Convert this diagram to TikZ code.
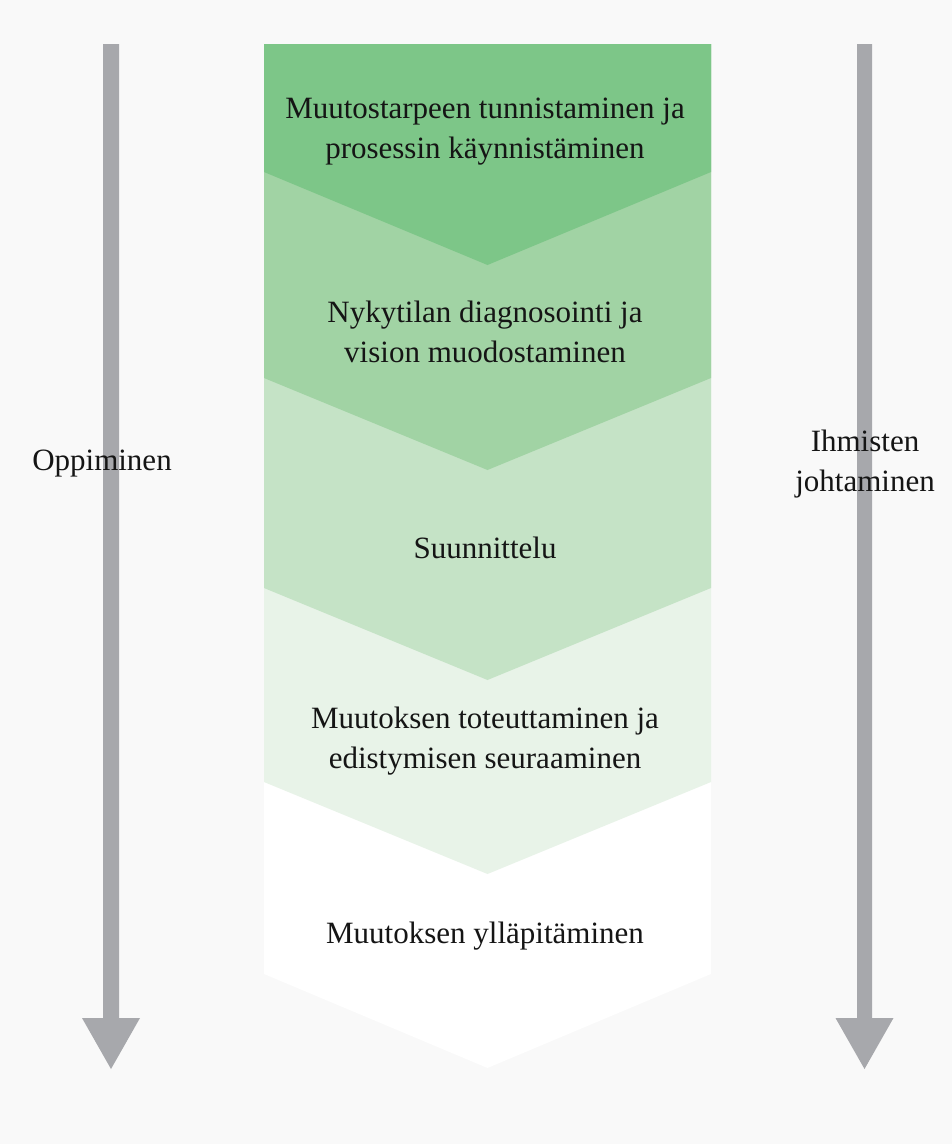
\documentclass[tikz,border=0pt]{standalone}
\usepackage{fontspec}
\setmainfont{Liberation Serif}
\definecolor{bg}{HTML}{F9F9F9}
\definecolor{gA}{HTML}{7DC688}
\definecolor{gB}{HTML}{A1D3A4}
\definecolor{gC}{HTML}{C5E3C6}
\definecolor{gD}{HTML}{E8F3E8}
\definecolor{gE}{HTML}{FFFFFF}
\definecolor{arrowgray}{HTML}{A7A8AC}
\definecolor{txt}{HTML}{151515}
\tikzset{
  band/.style={fill=#1, draw=none},
  arrowshape/.style={fill=arrowgray, draw=none},
  label/.style={font=\fontsize{31}{40}\selectfont, text=txt, align=center, inner sep=0pt},
}
\begin{document}
\begin{tikzpicture}[x=1pt,y=-1pt]
\fill[bg] (0,0) rectangle (952,1144);
\useasboundingbox (0,0) rectangle (952,1144);
% chevron bands, drawn from the last to the first
\fill[band=gE] (264,44) -- (711,44) -- (711,974) -- (487.5,1068) -- (264,974) -- cycle;
\fill[band=gD] (264,44) -- (711,44) -- (711,782) -- (487.5,874) -- (264,782) -- cycle;
\fill[band=gC] (264,44) -- (711,44) -- (711,588) -- (487.5,680) -- (264,588) -- cycle;
\fill[band=gB] (264,44) -- (711,44) -- (711,378) -- (487.5,470) -- (264,378) -- cycle;
\fill[band=gA] (264,44) -- (711,44) -- (711,172) -- (487.5,265) -- (264,172) -- cycle;
% side arrows
\fill[arrowshape] (103,44) -- (119,44) -- (119,1018) -- (140,1018) -- (111,1069) -- (82,1018) -- (103,1018) -- cycle;
\fill[arrowshape] (857,44) -- (872,44) -- (872,1018) -- (893.5,1018) -- (864.5,1069) -- (835.5,1018) -- (857,1018) -- cycle;
% texts
\node[label] (s1) at (485,130) {\strut Muutostarpeen tunnistaminen ja\\\strut prosessin käynnistäminen};
\node[label] (s2) at (485,334) {\strut Nykytilan diagnosointi ja\\\strut vision muodostaminen};
\node[label] (s3) at (485,550) {\strut Suunnittelu};
\node[label] (s4) at (485,740) {\strut Muutoksen toteuttaminen ja\\\strut edistymisen seuraaminen};
\node[label] (s5) at (485,935) {\strut Muutoksen ylläpitäminen};
\node[label] (left) at (102,462) {\strut Oppiminen};
\node[label] (right) at (865,463) {\strut Ihmisten\\\strut johtaminen};
\end{tikzpicture}
\end{document}
